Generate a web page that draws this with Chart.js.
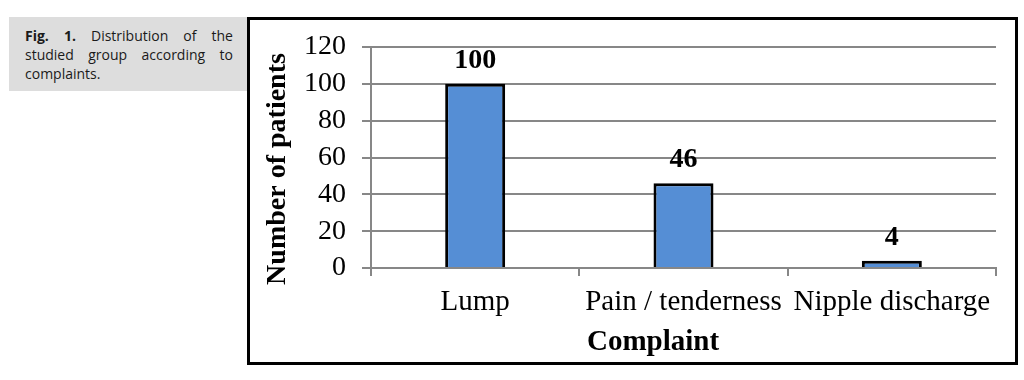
<!DOCTYPE html>
<html><head><meta charset="utf-8">
<script src="https://cdn.jsdelivr.net/npm/chart.js@4"></script>
<style>
html,body{margin:0;padding:0;background:#fff;width:1024px;height:380px;overflow:hidden}
#cap{position:absolute;left:9px;top:17px;width:238px;height:74px;background:#dddddd;box-sizing:border-box;padding:9px 14px 0 16px;font-family:"Open Sans",sans-serif;font-size:14px;line-height:19px;color:#1a1a1a}
#cap div{text-align:justify;text-align-last:justify;white-space:nowrap}
#cap div.last{text-align-last:left}
#frame{position:absolute;left:247px;top:17px;width:771px;height:348px;border:3px solid #000;box-sizing:border-box}
#wrap{position:absolute;left:0;top:0;width:1024px;height:380px}
</style></head>
<body>
<div id="cap"><div><b>Fig. 1.</b> Distribution of the</div><div>studied group according to</div><div class="last">complaints.</div></div>
<div id="frame"></div>
<div id="wrap"><canvas id="c" width="1024" height="380"></canvas></div>
<script>
const categories = ['Lump', 'Pain / tenderness', 'Nipple discharge'];
const patients = [100, 46, 4];
const yTicks = [0, 20, 40, 60, 80, 100, 120];
const yTitle = 'Number of patients';
const xTitle = 'Complaint';

const SERIF = '"Liberation Serif","Times New Roman",serif';
const GRID = '#878787';

const extrasPlugin = {
  id: 'extras',
  afterDatasetsDraw(chart) {
    const ctx = chart.ctx;
    const meta = chart.getDatasetMeta(0);
    ctx.save();
    ctx.fillStyle = '#000';
    ctx.font = 'bold 28px ' + SERIF;
    ctx.textAlign = 'center';
    ctx.textBaseline = 'alphabetic';
    meta.data.forEach((bar, i) => {
      ctx.fillText(String(patients[i]), bar.x, bar.y - 16);
    });
    ctx.restore();
  },
  afterDraw(chart) {
    const ctx = chart.ctx;
    const a = chart.chartArea;
    ctx.save();
    ctx.fillStyle = '#000';
    ctx.textAlign = 'center';
    ctx.textBaseline = 'middle';
    ctx.font = 'bold 28px ' + SERIF;
    ctx.translate(a.left - 93, (a.top + a.bottom) / 2 + 11.5);
    ctx.rotate(-Math.PI / 2);
    ctx.fillText(yTitle, 0, 0);
    ctx.restore();
    ctx.save();
    ctx.fillStyle = '#000';
    ctx.textAlign = 'center';
    ctx.textBaseline = 'alphabetic';
    ctx.font = 'bold 29px ' + SERIF;
    ctx.fillText(xTitle, 653, 350);
    ctx.restore();
  }
};

new Chart(document.getElementById('c'), {
  type: 'bar',
  data: {
    labels: categories,
    datasets: [{
      data: patients,
      backgroundColor: '#558ED5',
      borderColor: '#000000',
      borderWidth: 3,
      borderSkipped: 'bottom',
      categoryPercentage: 1,
      barPercentage: 0.288
    }]
  },
  options: {
    responsive: false,
    animation: false,
    devicePixelRatio: 1,
    layout: { padding: { left: 0, top: 47, right: 28, bottom: 0 } },
    plugins: { legend: { display: false }, tooltip: { enabled: false }, title: { display: false } },
    scales: {
      x: {
        afterFit: s => { s.height = 112; },
        grid: { drawOnChartArea: false, drawTicks: true, tickLength: 8, color: GRID, lineWidth: 2, offset: true },
        border: { display: true, color: GRID, width: 2 },
        ticks: { color: '#000', font: { family: SERIF, size: 29 }, padding: 9, maxRotation: 0, autoSkip: false }
      },
      y: {
        min: 0, max: 120,
        afterFit: s => { s.width = 371; },
        afterBuildTicks: s => { s.ticks = yTicks.map(v => ({ value: v })); },
        grid: { color: GRID, lineWidth: 2, tickLength: 9, drawTicks: true },
        border: { display: true, color: GRID, width: 2 },
        ticks: { color: '#000', font: { family: SERIF, size: 28 }, padding: 16 }
      }
    }
  },
  plugins: [extrasPlugin]
});
</script>
</body></html>
